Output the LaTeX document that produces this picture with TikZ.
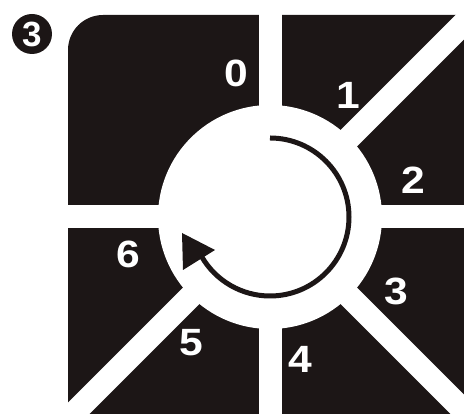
\documentclass[tikz,border=0pt]{standalone}
\usepackage{fontspec}
\setmainfont{Liberation Sans}
\definecolor{ink}{RGB}{28,22,22}
\tikzset{
  lbl/.style={text=white, font=\fontsize{38}{38}\selectfont\bfseries, inner sep=0pt, xscale=1.12},
  gap/.style={white, line width=23pt},
  badge/.style={circle, fill=ink, text=white, minimum size=40pt, inner sep=0pt, font=\fontsize{35}{35}\selectfont\bfseries}
}
\begin{document}
\begin{tikzpicture}[x=1pt,y=1pt]
\useasboundingbox (0,0) rectangle (464,414);
\clip (0,0) rectangle (464,414);
\coordinate (C) at (270,197);
% dark field
\fill[ink] (68,-10) -- (68,364) arc[start angle=180,end angle=90,radius=35] -- (480,399) -- (480,-10) -- cycle;
% white gaps
\foreach \a in {90,45,0,-45,-90,-135,180} \draw[gap] (C) -- ++(\a:400);
\fill[white] (C) circle[radius=112];
% rotation arrow
\draw[ink, line width=5pt] (C) ++(90:79) arc[start angle=90, end angle=-150, radius=79];
\coordinate (t1) at (182,181);
\coordinate (t2) at (215,164);
\coordinate (t3) at (183,144);
\fill[ink] (t1) -- (t2) -- (t3) -- cycle;
% labels
\node[lbl] (l0) at (236,341) {0};
\node[lbl] (l1) at (348,319) {1};
\node[lbl] (l2) at (413,234) {2};
\node[lbl] (l3) at (396,123) {3};
\node[lbl] (l4) at (300,55) {4};
\node[lbl] (l5) at (191,71) {5};
\node[lbl] (l6) at (128,160) {6};
\node[badge] (num) at (32,380) {3};
\end{tikzpicture}
\end{document}
